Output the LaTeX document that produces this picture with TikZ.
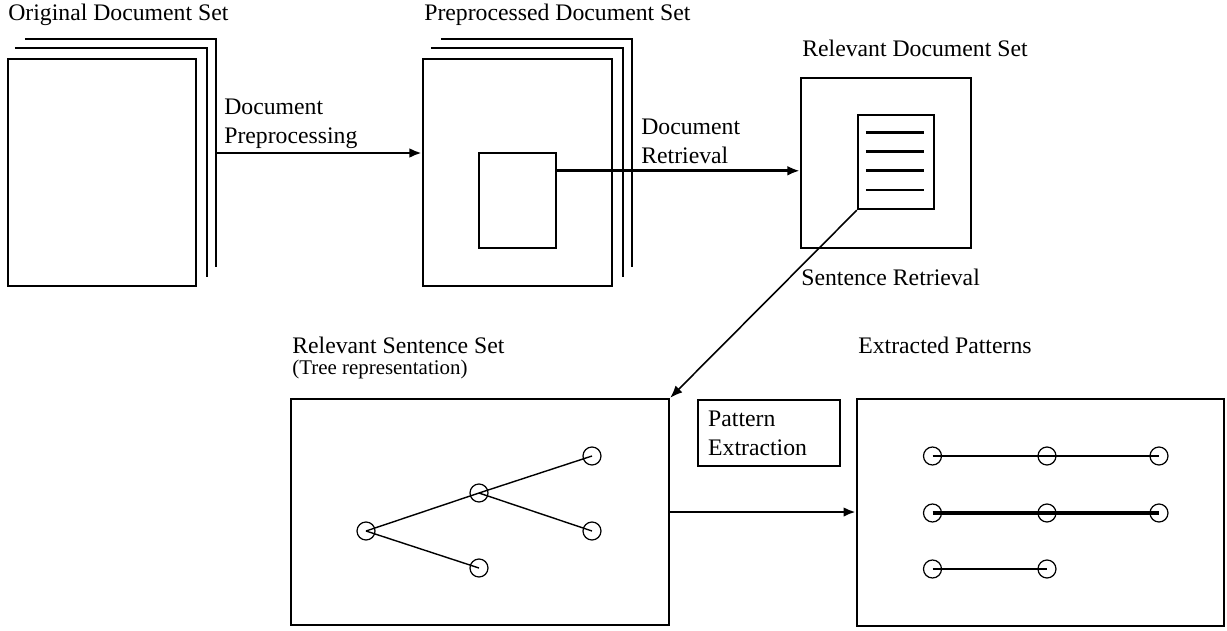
\documentclass[tikz,border=0pt]{standalone}
\usepackage{fontspec}
\setmainfont{Liberation Serif}
\usetikzlibrary{calc,positioning,arrows.meta}
\tikzset{
  box/.style={draw, line width=1.4pt, inner sep=0pt},
  sheet/.style={line width=1.4pt},
  arrow/.style={-{Latex[length=7pt,width=5.5pt]}, line width=1.6pt},
  vertex/.style={draw, circle, line width=0.7pt, inner sep=0pt, minimum size=0.36cm},
  lbl/.style={anchor=base west, inner sep=0pt, align=left, font=\fontsize{13.5}{16.5}\selectfont},
}
\begin{document}
\begin{tikzpicture}[x=0.02cm, y=-0.02cm]
  \useasboundingbox (0,0) rectangle (1227,630);
  % stacks of pages
  \node[box, minimum width=3.76cm, minimum height=4.54cm] (orig) at (102,172.5) {};
  \draw[sheet] ($(orig.north west)+(8,-10)$) -| ($(orig.south east)+(10,-10)$);
  \draw[sheet, line width=1pt] ($(orig.north west)+(18,-19)$) -| ($(orig.south east)+(19,-20)$);
  \node[box, minimum width=3.78cm, minimum height=4.54cm] (prep) at (517.5,172.5) {};
  \draw[sheet] ($(prep.north west)+(9,-10)$) -| ($(prep.south east)+(10,-10)$);
  \draw[sheet, line width=1pt] ($(prep.north west)+(19,-19)$) -| ($(prep.south east)+(19,-20)$);
  \node[box, minimum width=1.54cm, minimum height=1.9cm] (inner) at (517.5,200.5) {};
  % relevant documents
  \node[box, minimum width=3.4cm, minimum height=3.4cm] (rel) at (886,163) {};
  \node[box, minimum width=1.52cm, minimum height=1.88cm] (doc) at (896,162) {};
  \foreach \y/\w in {19/1.5,38/1.5,57/1.5,76/1}
    \draw[line width=\w pt] ($(doc.north west)+(9,\y)$) -- ++(58,0);
  % sentences and patterns
  \node[box, minimum width=7.56cm, minimum height=4.52cm] (sent) at (480,512) {};
  \node[box, minimum width=7.34cm, minimum height=4.54cm] (extr) at (1040.5,512.5) {};
  \node[box, anchor=north west, minimum height=1.32cm, text width=2.44cm, inner xsep=0.2cm,
    align=left, font=\fontsize{13.5}{16.5}\selectfont] (pext) at (697,399) {Pattern\\Extraction};
  % tree
  \node[vertex] (t1) at (366,531) {};
  \node[vertex] (t2) at (479,493) {};
  \node[vertex] (t3) at (592,456) {};
  \node[vertex] (t4) at (592,531) {};
  \node[vertex] (t5) at (479,568) {};
  \foreach \a/\b in {t1/t2,t2/t3,t2/t4,t1/t5}
    \draw[line width=0.8pt] (\a.center) -- (\b.center);
  % patterns
  \foreach \y/\w [count=\i] in {456/1.3,513/2,569/1.3} {
    \node[vertex] (p\i a) at (932.5,\y) {};
    \node[vertex] (p\i b) at (1047,\y) {};
    \ifnum\i<3
      \node[vertex] (p\i c) at (1159,\y) {};
      \draw[line width=\w pt] (p\i a.center) -- (p\i c.center);
    \else
      \draw[line width=\w pt] (p\i a.center) -- (p\i b.center);
    \fi
  }
  % connectors
  \coordinate (s1) at (215,153);
  \draw[arrow] (s1) -- (s1 -| prep.west);
  \coordinate (s2) at ($(inner.north east)+(0,19)$);
  \draw[arrow] (s2) -- (s2 -| rel.west);
  \draw[-{Latex[length=7pt,width=5.5pt]}, line width=0.9pt] (doc.south west) -- (sent.north east);
  \draw[arrow] (sent.east) -- (sent.east -| extr.west);
  % labels
  \node[lbl] (lorig) at (8,20) {Original Document Set};
  \node[lbl] (lprep) at (424,20) {Preprocessed Document Set};
  \node[lbl] (lrel) at (802,56) {Relevant Document Set};
  \node[lbl] (ldp) at (224,143) {Document\\Preprocessing};
  \node[lbl] (ldr) at (641,163) {Document\\Retrieval};
  \node[lbl] (lsr) at (801,285) {Sentence Retrieval};
  \node[lbl] (lsent) at (292,353) {Relevant Sentence Set};
  \node[lbl, font=\fontsize{11.9}{14}\selectfont] (ltree) at (292,374) {(Tree representation)};
  \node[lbl] (lextr) at (858,353) {Extracted Patterns};
\end{tikzpicture}
\end{document}
